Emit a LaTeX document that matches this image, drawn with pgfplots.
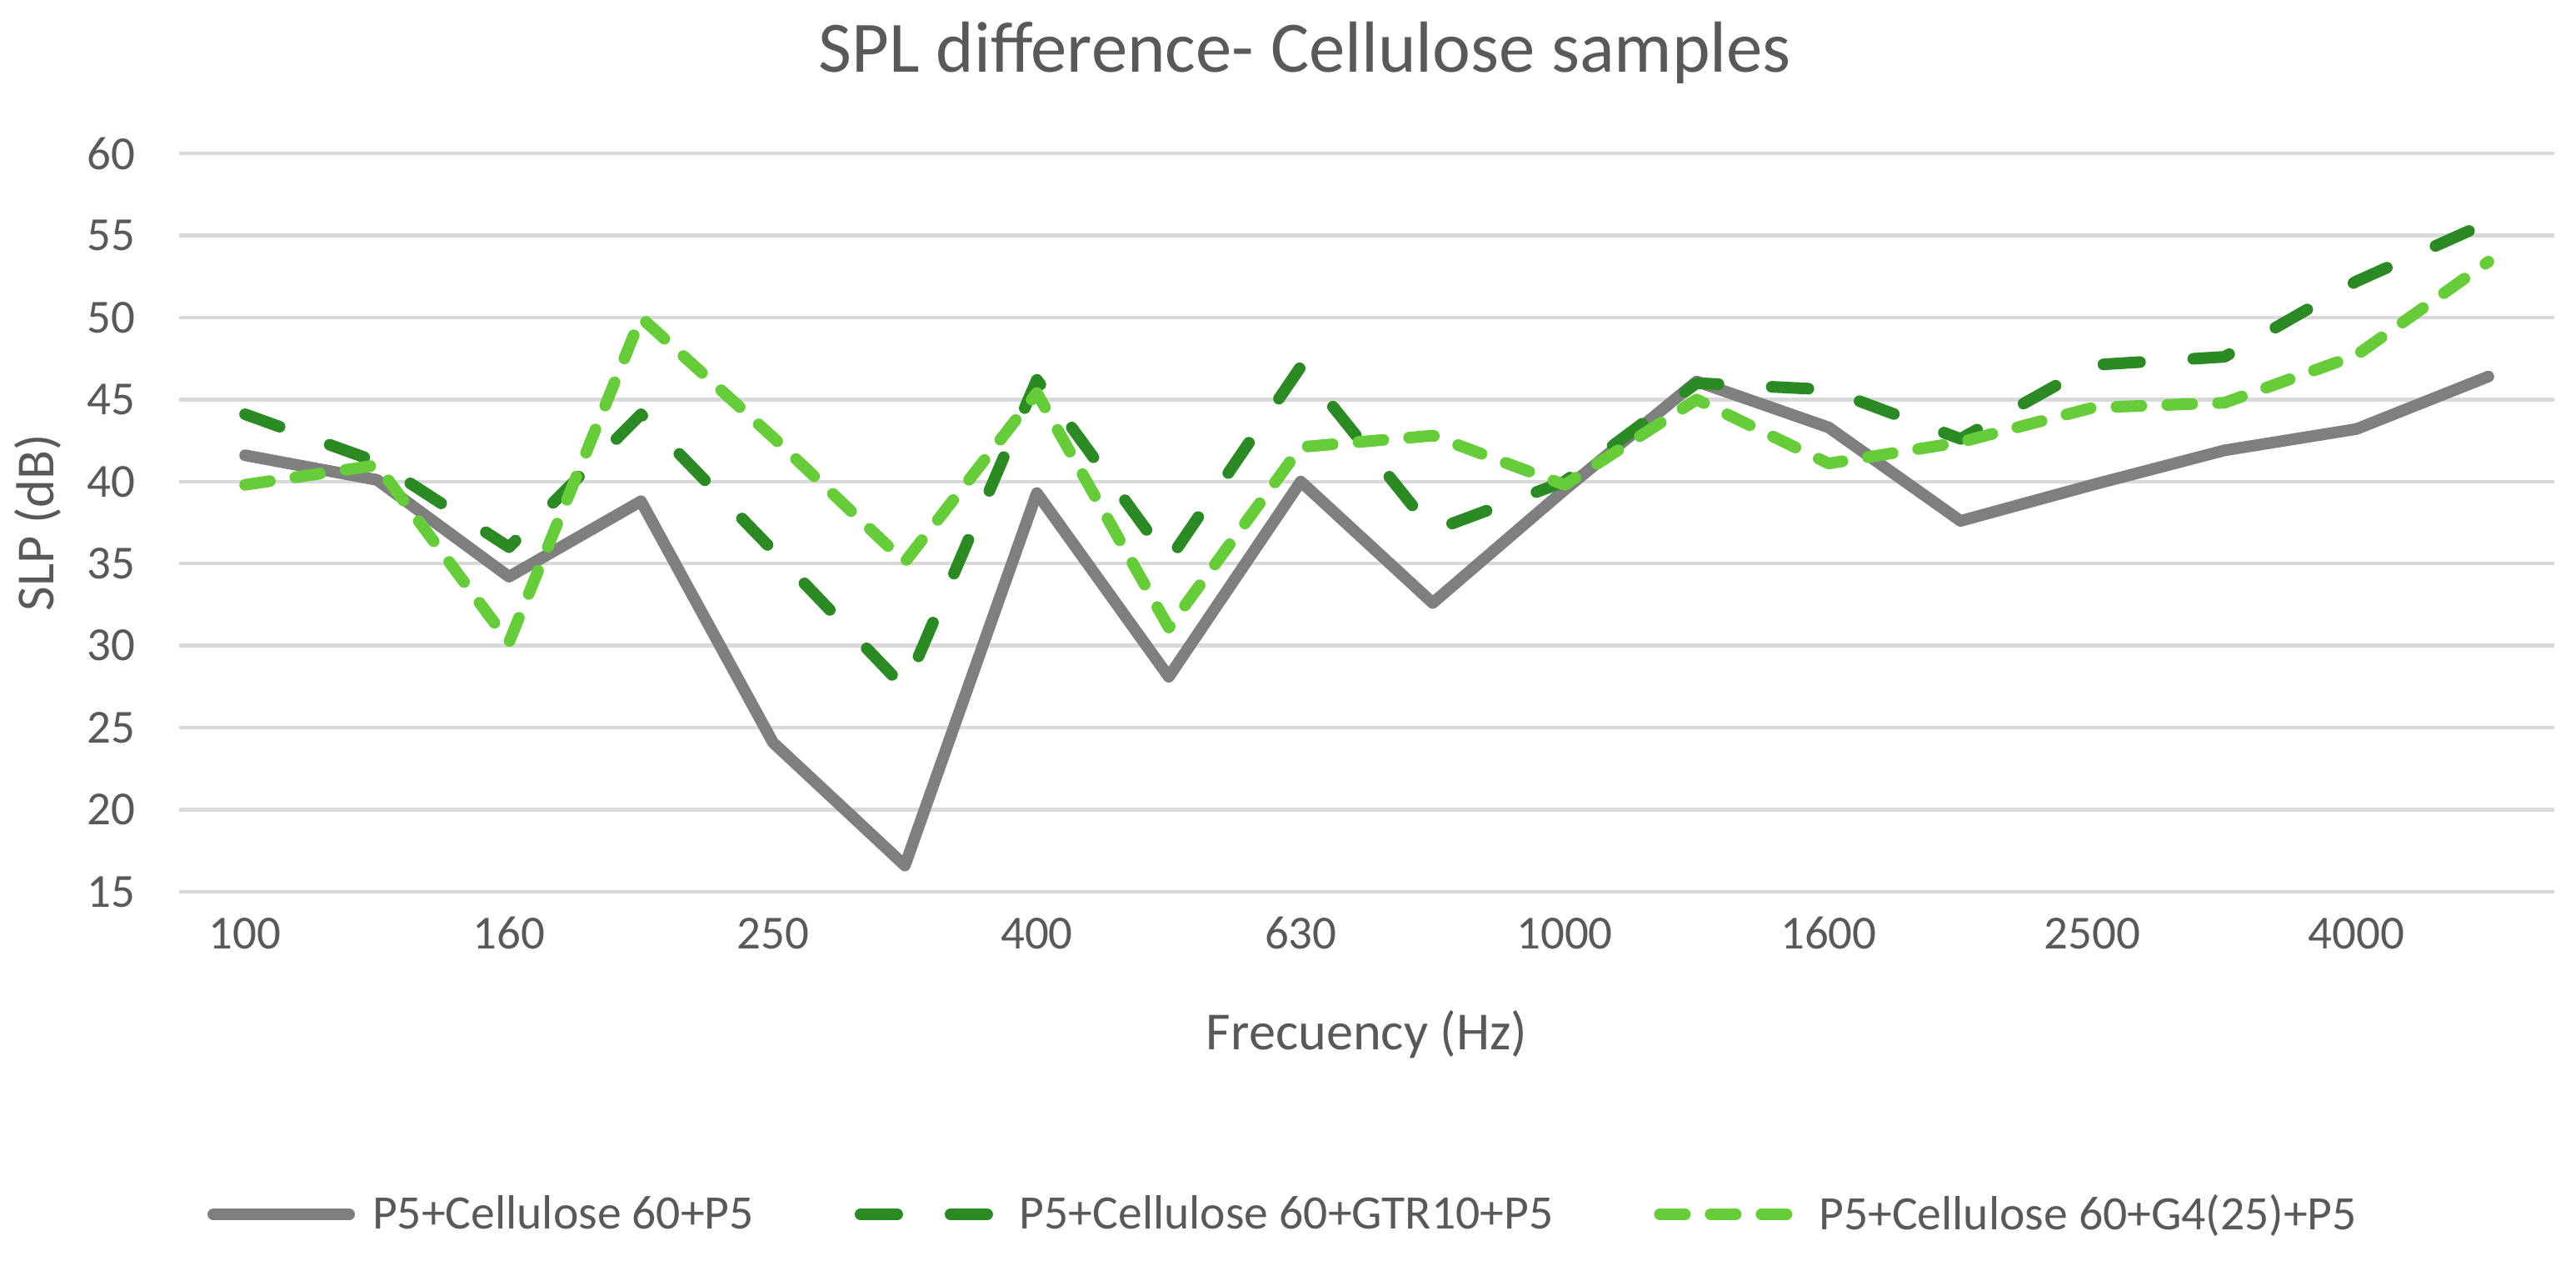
\documentclass[border=0pt]{standalone}
\usepackage{fontspec}
\setmainfont{Carlito}
\usepackage{pgfplots}
\pgfplotsset{compat=1.18}
\definecolor{txtgray}{HTML}{595959}
\definecolor{gridgray}{HTML}{D9D9D9}
\definecolor{sgray}{HTML}{7F7F7F}
\definecolor{dgreen}{HTML}{2B8A24}
\definecolor{lgreen}{HTML}{66CC3A}
\begin{document}
\begin{tikzpicture}
\useasboundingbox (0,0) rectangle (309.2mm,151.3mm);
\begin{axis}[
  at={(21.5mm,44.3mm)}, anchor=south west,
  scale only axis, width=285.1mm, height=88.6mm,
  xmin=-0.5, xmax=17.5, ymin=15, ymax=60,
  xtick={0,2,4,6,8,10,12,14,16},
  xticklabels={100,160,250,400,630,1000,1600,2500,4000},
  ytick={15,20,25,30,35,40,45,50,55,60},
  ymajorgrids,
  grid style={gridgray, line width=0.45mm},
  axis line style={draw=none},
  major tick length=0pt,
  /pgf/number format/assume math mode=true,
  tick label style={font=\fontsize{16.2}{19}\selectfont, text=txtgray},
  xticklabel style={anchor=base, yshift=-6.9mm, inner sep=0pt},
  yticklabel style={anchor=east, xshift=-5.2mm, inner sep=0pt},
  title={SPL difference- Cellulose samples},
  title style={font=\fontsize{24.7}{30}\selectfont, text=txtgray, at={(axis description cs:0.5,1)}, anchor=base, yshift=7.6mm, xshift=-7.4mm},
  xlabel={Frecuency (Hz)},
  xlabel style={font=\fontsize{18.3}{22}\selectfont, text=txtgray, at={(axis description cs:0.5,0)}, anchor=base, yshift=-19mm, inner sep=0pt},
  ylabel={SLP (dB)},
  ylabel style={font=\fontsize{18.3}{22}\selectfont, text=txtgray, at={(axis description cs:-0.0596,0.5)}, anchor=center, inner sep=0pt},
  legend columns=3,
  legend style={draw=none, fill=none, at={(axis description cs:0.5,0)}, anchor=center, xshift=-10.5mm, yshift=-38.7mm,
    font=\fontsize{16.4}{19}\selectfont, text=txtgray,
    nodes={inner sep=0pt},
    /tikz/every odd column/.append style={column sep=1.4mm},
    /tikz/every even column/.append style={column sep=11.4mm}},
  legend cell align=left,
  legend image code/.code={\path (0mm,0mm) (17.7mm,0mm); \draw[#1] (0.7mm,0mm) -- (17.0mm,0mm);},
  every axis plot/.append style={line width=1.4mm, line cap=round, line join=round},
]
\addplot[sgray] coordinates {
(0,41.6) (1,40.1) (2,34.2) (3,38.8) (4,24.1) (5,16.6) (6,39.3) (7,28.1) (8,40.0)
(9,32.6) (10,39.5) (11,46.1) (12,43.3) (13,37.6) (14,39.8) (15,41.9) (16,43.2) (17,46.4)};
\addlegendentry{P5+Cellulose 60+P5}
\addplot[dgreen, dash pattern=on 4.4mm off 6.4mm] coordinates {
(0,44.1) (1,41.2) (2,36.0) (3,44.1) (4,35.8) (5,27.4) (6,46.2) (7,35.2) (8,47.0)
(9,37.0) (10,40.0) (11,46.0) (12,45.6) (13,42.6) (14,47.1) (15,47.6) (16,52.2) (17,55.8)};
\addlegendentry{P5+Cellulose 60+GTR10+P5}
\addplot[lgreen, dash pattern=on 3.0mm off 3.1mm] coordinates {
(0,39.8) (1,41.0) (2,30.2) (3,50.0) (4,42.7) (5,35.1) (6,45.4) (7,31.1) (8,42.1)
(9,42.8) (10,39.8) (11,45.0) (12,41.1) (13,42.4) (14,44.5) (15,44.8) (16,47.7) (17,53.4)};
\addlegendentry{P5+Cellulose 60+G4(25)+P5}
\end{axis}
\end{tikzpicture}
\end{document}
